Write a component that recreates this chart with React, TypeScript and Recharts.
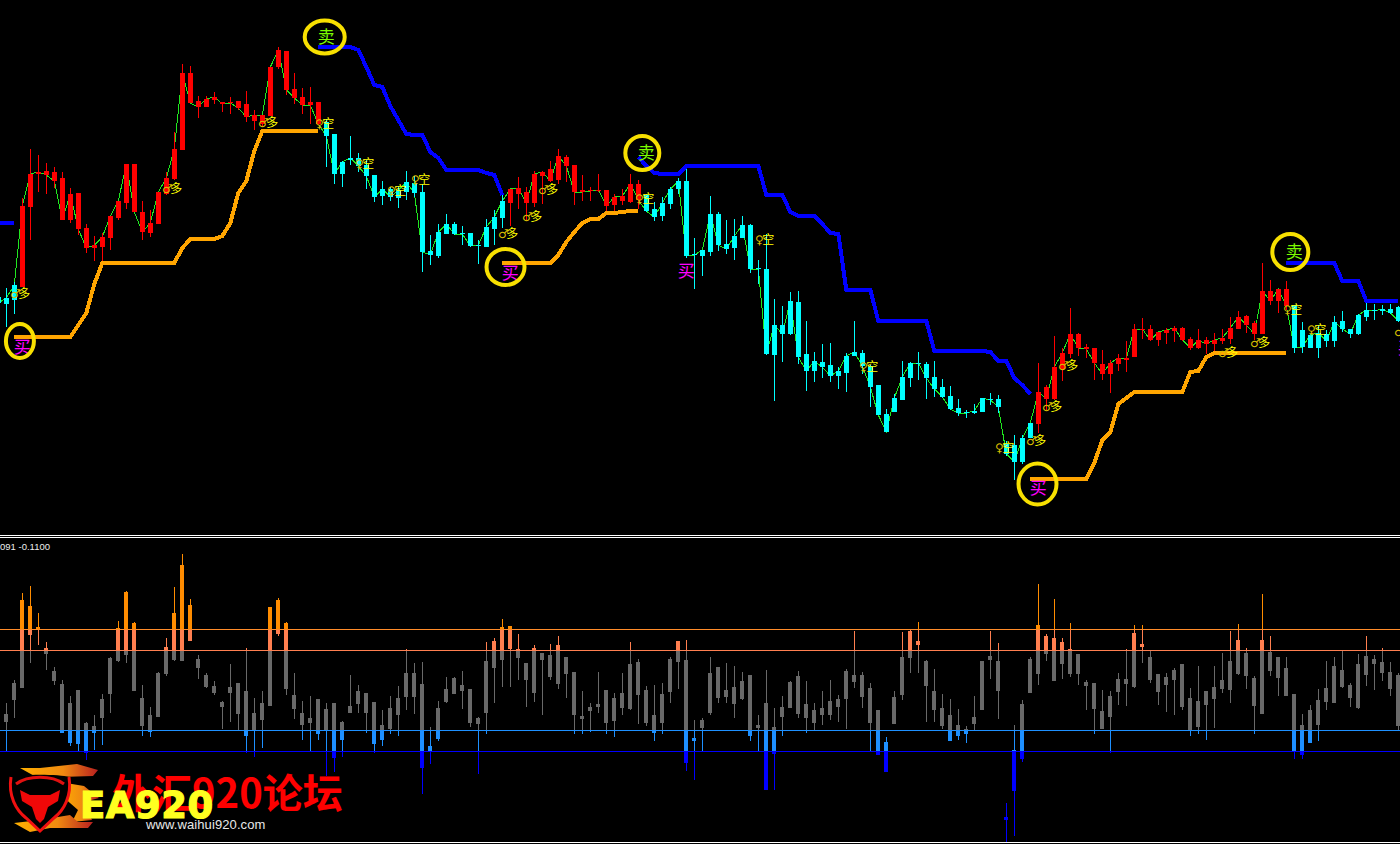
import { Bar, ComposedChart, Line, ReferenceDot, ReferenceLine, XAxis, YAxis } from 'recharts'

// price pane, first entry is the half hidden bar left of the window (bar -1)
const FIRST_BAR = -1
const opens = [
  239, 232, 236, 249, 329, 362, 365, 364, 358, 316, 343, 308, 288, 289, 298, 318, 333, 372, 324, 303,
  312, 342, 357, 386, 463, 435, 429, 436, 434, 434, 435, 432, 415, 412, 420, 469, 485, 447, 439, 434,
  434, 414, 402, 362, 376, 378, 371, 361, 340, 347, 338, 344, 353, 344, 285, 280, 302, 312, 303, 303,
  290, 289, 307, 318, 333, 342, 344, 333, 360, 367, 356, 379, 371, 346, 346, 345, 346, 331, 335, 334,
  352, 341, 327, 320, 332, 347, 355, 282, 280, 284, 322, 292, 288, 298, 311, 268, 267, 181, 211, 202,
  234, 182, 165, 174, 171, 160, 163, 180, 183, 170, 151, 122, 124, 136, 158, 172, 172, 159, 149, 140,
  128, 124, 123, 124, 137, 137, 92, 91, 74, 98, 112, 149, 137, 167, 182, 202, 189, 188, 172, 162,
  172, 176, 179, 206, 207, 196, 203, 205, 208, 197, 188, 196, 192, 195, 197, 207, 220, 213, 202, 245,
  235, 247, 231, 206, 188, 188, 202, 195, 215, 207, 202, 219, 226, 225, 227, 229,
]
const closes = [
  233, 238, 251, 330, 362, 364, 361, 355, 316, 342, 307, 288, 291, 299, 320, 335, 372, 324, 304, 313,
  344, 358, 387, 463, 433, 429, 437, 439, 432, 433, 428, 419, 421, 421, 469, 486, 446, 438, 431, 431,
  412, 400, 362, 374, 378, 370, 360, 339, 347, 339, 346, 354, 343, 284, 281, 304, 312, 302, 302, 290,
  291, 309, 319, 335, 347, 348, 333, 362, 364, 355, 380, 370, 344, 344, 345, 346, 330, 339, 340, 352,
  336, 325, 319, 333, 347, 355, 280, 281, 286, 322, 291, 287, 300, 311, 267, 267, 182, 211, 202, 235,
  179, 165, 175, 169, 160, 165, 180, 184, 170, 149, 121, 104, 138, 159, 173, 173, 158, 147, 139, 127,
  123, 123, 125, 138, 136, 129, 82, 74, 98, 113, 144, 137, 169, 183, 202, 188, 187, 173, 162, 173,
  178, 178, 207, 207, 196, 204, 206, 208, 196, 188, 196, 192, 196, 198, 208, 219, 211, 202, 245, 235,
  247, 230, 188, 189, 201, 203, 195, 214, 207, 202, 221, 226, 225, 227, 223, 215,
]
const highs = [
  240, 248, 254, 338, 387, 381, 373, 369, 364, 348, 343, 312, 300, 303, 320, 335, 372, 372, 335, 326,
  344, 364, 404, 472, 470, 440, 440, 444, 434, 439, 435, 445, 426, 421, 469, 489, 485, 463, 448, 449,
  434, 417, 402, 375, 400, 383, 376, 361, 355, 349, 350, 365, 360, 352, 301, 312, 322, 314, 310, 303,
  296, 317, 326, 341, 347, 359, 349, 365, 365, 375, 387, 381, 371, 361, 349, 362, 346, 342, 347, 362,
  356, 342, 334, 339, 349, 358, 367, 298, 286, 340, 324, 316, 317, 320, 312, 276, 302, 237, 230, 244,
  245, 215, 184, 192, 193, 169, 183, 215, 186, 171, 151, 127, 142, 175, 174, 184, 174, 175, 157, 150,
  137, 126, 132, 138, 143, 141, 95, 101, 101, 113, 173, 151, 200, 188, 228, 203, 192, 188, 186, 176,
  182, 195, 212, 218, 211, 204, 208, 210, 209, 199, 207, 199, 203, 207, 219, 225, 221, 215, 273, 256,
  247, 255, 231, 214, 202, 211, 206, 220, 225, 207, 222, 233, 232, 231, 232, 230,
]
const lows = [
  233, 209, 222, 249, 296, 344, 342, 348, 316, 313, 301, 283, 275, 274, 286, 316, 327, 324, 296, 299,
  312, 341, 356, 386, 433, 418, 429, 432, 424, 422, 426, 414, 406, 409, 420, 467, 441, 432, 422, 412,
  411, 369, 352, 349, 371, 364, 347, 334, 331, 335, 328, 336, 339, 264, 271, 278, 302, 301, 291, 289,
  272, 289, 291, 308, 310, 327, 315, 329, 332, 354, 352, 354, 331, 335, 335, 344, 325, 325, 331, 333,
  327, 324, 315, 315, 327, 342, 278, 247, 260, 280, 285, 282, 276, 298, 263, 252, 181, 135, 174, 201,
  172, 145, 154, 158, 154, 147, 144, 180, 162, 129, 121, 104, 124, 136, 149, 156, 137, 139, 138, 126,
  120, 118, 122, 124, 131, 123, 80, 56, 72, 98, 103, 126, 136, 155, 178, 180, 178, 156, 156, 143,
  165, 164, 179, 197, 195, 190, 192, 194, 195, 186, 187, 182, 184, 192, 192, 207, 203, 196, 202, 231,
  223, 226, 183, 183, 188, 178, 189, 189, 204, 198, 201, 215, 216, 221, 222, 214,
]

// bars where the trend filter paints the candle red, the rest are cyan
const upTrendRanges = [[2, 39], [63, 79], [129, 160]]

const supportSegments = [
  { start: 1, values: [199, 199, 199, 199, 199, 199, 199, 199, 211, 223, 252, 273, 273, 273, 273, 273, 273, 273, 273, 273, 273, 288, 297, 297, 297, 297, 300, 313, 343, 355, 385, 405, 405, 405, 405, 405, 405, 405, 405] },
  { start: 62, values: [273, 273, 273, 273, 273, 273, 273, 281, 294, 304, 313, 317, 317, 323, 323, 324, 325, 325] },
  { start: 128, values: [57, 57, 57, 57, 57, 57, 57, 57, 73, 96, 104, 132, 138, 144, 144, 144, 144, 144, 144, 144, 164, 165, 179, 183, 183, 183, 183, 183, 183, 183, 183, 183, 183] },
]
const resistanceSegments = [
  { start: -1, values: [313, 313, 313] },
  { start: 39, values: [489, 489, 489, 489, 489, 486, 469, 451, 449, 430, 416, 402, 401, 401, 384, 378, 366, 366, 366, 366, 366, 363, 361, 341] },
  { start: 79, values: [379, 370, 363, 362, 362, 362, 370, 370, 370, 370, 370, 370, 370, 370, 370, 370, 341, 341, 341, 324, 320, 320, 320, 312, 303, 302, 246, 246, 246, 246, 215, 215, 215, 215, 215, 215, 215, 185, 185, 185, 185, 185, 185, 185, 184, 175, 175, 158, 151, 142] },
  { start: 160, values: [273, 273, 273, 273, 273, 273, 273, 255, 255, 255, 235, 235, 235, 235, 235] },
]

const longBars = [1, 20, 32, 62, 65, 67, 128, 130, 132, 152, 156, 174]
const longPrices = [242, 347, 413, 302, 319, 346, 95, 129, 170, 183, 193, 204]
const shortBars = [39, 44, 48, 51, 79, 94, 107, 124, 160, 163]
const shortPrices = [412, 372, 345, 356, 337, 296, 169, 88, 226, 206]
const buyBars = [2, 63, 85, 129, 175]
const buyPrices = [189, 263, 265, 48, 188]
const sellBars = [40, 80, 161]
const sellPrices = [499, 383, 284]

const ringBars = [39.8, 1.7, 62.4, 79.5, 128.9, 160.5]
const ringPrices = [499, 195, 269, 383, 52, 284]
const ringRadii = [[20, 16.5], [14, 17], [19, 18], [17, 17], [19, 20.5], [18, 18]]

// oscillator pane, bars 0 to 174
const oscHighs = [
  -12, 11, 97, 105, 77, 49, 24, 11, -5, 1, -32, -25, -3, 34, 70, 100, 69, 6, -16, 19,
  52, 103, 136, 91, 36, 18, 10, -10, 26, 7, 43, -7, 0, 83, 93, 69, 18, -10, -5, -8,
  -13, -13, -30, 16, 6, -2, -11, -20, -5, 5, 42, 28, 29, -36, -10, 14, 14, 20, 2, -26,
  49, 52, 72, 64, 57, 28, 45, 38, 46, 55, 34, 19, 0, -13, 19, 1, -2, 18, 49, 32,
  5, 6, 7, 34, 50, 51, -29, -27, 34, 24, 27, 25, 19, 16, -25, 21, -17, -6, 10, 20,
  10, -13, 0, 11, -4, 22, 60, 19, 8, -19, -46, -1, 58, 62, 69, 31, 22, -3, -8, -18,
  -35, -5, 30, 59, 48, -112, -34, -9, 34, 107, 57, 91, 53, 68, 37, 11, 7, 1, -1, 18,
  42, 66, 66, 41, 17, 18, 23, 26, 3, 25, -1, 25, 38, 59, 67, 43, 15, 96, 55, 34,
  33, -3, -23, -14, 2, 30, 34, 40, 7, 37, 55, 36, 43, 29, 18,
]
const oscBodyHighs = [
  -23, 8, 90, 85, 63, 43, 20, 7, -12, 1, -33, -36, -8, 33, 63, 99, 68, -7, -24, 18,
  43, 78, 125, 86, 32, 16, 5, -11, 4, 7, 0, -22, -12, 83, 91, 68, -4, -22, -27, -8,
  -19, -13, -31, -15, 0, -2, -11, -34, -17, -7, 18, 18, 7, -55, -17, 2, 13, 6, 2, -27,
  30, 49, 64, 64, 42, 28, 42, 38, 35, 46, 34, 19, -25, -17, -13, 1, -7, -2, 26, 29,
  1, -24, -4, 32, 50, 31, -47, -29, 18, 24, 0, 4, 10, 16, -35, -12, -36, -17, 9, 15,
  -13, -20, -17, -10, -8, 20, 16, 16, 3, -19, -51, -7, 34, 60, 50, 30, 0, -17, -24, -34,
  -38, -26, 30, 35, 30, -126, -59, -13, 32, 66, 55, 53, 49, 42, 37, 9, 7, -20, -6, 12,
  12, 58, 47, 34, 17, 14, 21, 26, -7, -10, -1, 4, 11, 30, 51, 38, 13, 51, 39, 34,
  23, -3, -34, -19, -9, 3, 25, 21, 5, 27, 35, 32, 29, 19, 16,
]
const oscBodyLows = [
  -31, -9, 3, 55, 61, 37, 10, -42, -52, -53, -63, -42, -27, -3, 30, 35, -1, -35, -41, -26,
  17, 31, 30, 50, 23, 4, -2, -16, -2, -23, -45, -40, -29, -15, 57, 2, -18, -34, -32, -43,
  -40, -68, -49, -22, -13, -22, -54, -49, -38, -24, -6, -6, -77, -61, -48, -12, -3, 0, -32, -33,
  -22, 22, 31, 41, 33, 11, -2, 31, 14, 7, 17, -25, -28, -21, -16, -33, -30, -17, -19, -4,
  -32, -42, -32, -2, 29, -72, -50, -37, -23, -7, -7, -13, -8, -46, -38, -99, -63, -26, -17, -23,
  -27, -32, -24, -24, -16, -8, 9, -6, -32, -64, -82, -33, -4, 33, 46, 5, -20, -35, -50, -45,
  -43, -33, -20, 31, 0, -129, -100, -68, -2, 17, 37, 10, 27, 17, 17, 5, -19, -39, -27, -1,
  7, 4, 44, 10, -1, 6, 11, -17, -40, -36, -15, -8, 2, 1, 17, 15, -15, -23, 20, 13,
  -5, -61, -64, -52, -35, -11, -13, 4, -7, -17, 16, 27, 18, 2, -35,
]
const oscLows = [
  -60, -27, 3, 27, 45, 21, 6, -42, -55, -60, -70, -59, -54, -22, 29, 27, -1, -45, -46, -26,
  15, 30, 30, 50, 12, 3, -4, -38, -31, -40, -63, -66, -57, -15, 55, -4, -28, -49, -61, -49,
  -85, -82, -66, -22, -22, -42, -63, -55, -43, -45, -19, -23, -103, -73, -50, -13, -3, -18, -36, -83,
  -43, -13, 4, 4, 11, -16, -11, -24, 11, 2, -7, -44, -43, -41, -22, -44, -46, -24, -20, -33,
  -35, -50, -43, -13, 2, -80, -89, -60, -25, -12, -13, -27, -9, -51, -60, -99, -99, -45, -17, -27,
  -42, -40, -34, -29, -32, -38, 3, -17, -60, -64, -82, -33, -9, 18, 18, -31, -32, -38, -50, -49,
  -52, -40, -20, 12, -28, -151, -145, -71, -2, 6, 30, 10, 12, 14, 6, -19, -44, -39, -63, -14,
  -15, 3, 28, 7, -14, -21, -25, -20, -45, -43, -49, -37, -2, -12, 16, 2, -43, -23, 15, -6,
  -5, -68, -68, -52, -51, -19, -13, 3, -16, -18, 5, 1, 10, -5, -40,
]

const levelUpperOuter = 61
const levelUpperInner = 40
const levelLowerInner = -40
const levelLowerOuter = -61

const timeTicks = [2, 10, 18, 26, 34, 42, 50, 58, 66, 74, 82, 90, 98, 106, 114, 122, 130, 138, 146, 154, 162, 170]

const X_DOMAIN: [number, number] = [-0.79, 174.21]

const isUpTrend = (bar: number) => upTrendRanges.some(([from, to]) => bar >= from && bar <= to)

const fillSegments = (segments: { start: number; values: number[] }[], bar: number) => {
  for (const seg of segments) {
    const v = seg.values[bar - seg.start]
    if (v !== undefined) return v
  }
  return null
}

const priceRows = closes.map((close, i) => {
  const bar = i + FIRST_BAR
  return {
    bar,
    open: opens[i],
    close,
    high: highs[i],
    low: lows[i],
    range: [lows[i], highs[i]],
    support: fillSegments(supportSegments, bar),
    resistance: fillSegments(resistanceSegments, bar),
  }
})

const oscRows = oscHighs.map((high, i) => ({
  bar: i,
  high,
  bodyHigh: oscBodyHighs[i],
  bodyLow: oscBodyLows[i],
  low: oscLows[i],
  range: [oscLows[i], high],
}))

function Candle(props: any) {
  const { x, y, width, height, payload } = props
  const cx = Math.floor(x + width / 2)
  const h = Math.abs(height)
  const perUnit = h / Math.max(payload.high - payload.low, 1)
  const toY = (v: number) => y + (payload.high - v) * perUnit
  const top = Math.round(toY(Math.max(payload.open, payload.close)))
  const bottom = Math.round(toY(Math.min(payload.open, payload.close)))
  const color = isUpTrend(payload.bar) ? '#ff0000' : '#00ffff'
  return (
    <g shapeRendering="crispEdges">
      <rect x={cx} y={Math.round(y)} width={1} height={Math.max(Math.round(h), 1)} fill={color} />
      <rect x={cx - 2} y={top} width={5} height={Math.max(bottom - top, 1)} fill={color} />
    </g>
  )
}

const zones = [
  { top: Infinity, bottom: levelUpperOuter, color: '#ff8c00' },
  { top: levelUpperOuter, bottom: levelUpperInner, color: '#ff7f50' },
  { top: levelUpperInner, bottom: levelLowerInner, color: '#696969' },
  { top: levelLowerInner, bottom: levelLowerOuter, color: '#1e90ff' },
  { top: levelLowerOuter, bottom: -Infinity, color: '#0000ff' },
]

function OscCandle(props: any) {
  const { x, y, width, height, payload } = props
  const cx = Math.floor(x + width / 2)
  const perUnit = Math.abs(height) / Math.max(payload.high - payload.low, 1)
  const toY = (v: number) => y + (payload.high - v) * perUnit
  const pieces = (hi: number, lo: number, left: number, w: number) =>
    zones.map((z) => {
      const a = Math.min(hi, z.top)
      const b = Math.max(lo, z.bottom)
      if (a <= b) return null
      const top = Math.round(toY(a))
      const bottom = Math.round(toY(b))
      return <rect key={`${left}-${z.color}`} x={left} y={top} width={w} height={Math.max(bottom - top, 1)} fill={z.color} />
    })
  return (
    <g shapeRendering="crispEdges">
      {pieces(payload.high, payload.low, cx, 1)}
      {pieces(payload.bodyHigh, payload.bodyLow, cx - 2, 4)}
    </g>
  )
}

const CJK = '"Noto Sans CJK SC", sans-serif'

const tradeMark = (glyph: string, word: string) => (props: any) => (
  <g>
    <text x={props.cx + 1} y={props.cy + 4} fontSize={12} textAnchor="middle" fill="#d8bc00" fontFamily="DejaVu Sans">
      {glyph}
    </text>
    <text x={props.cx + 10} y={props.cy + 4} fontSize={12} textAnchor="middle" fill="#ffff00" fontFamily={CJK}>
      {word}
    </text>
  </g>
)

const signalMark = (word: string, color: string) => (props: any) => (
  <text x={props.cx} y={props.cy + 6} fontSize={17} textAnchor="middle" fill={color} fontFamily={CJK}>
    {word}
  </text>
)

const ringMark = (rx: number, ry: number) => (props: any) => (
  <ellipse cx={props.cx} cy={props.cy} rx={rx} ry={ry} fill="none" stroke="#f8e000" strokeWidth={4} />
)

function Watermark() {
  return (
    <svg width={360} height={84} style={{ position: 'absolute', left: 0, top: 760 }}>
      <defs>
        <linearGradient id="swoosh" x1="0" y1="0" x2="1" y2="0">
          <stop offset="0" stopColor="#ffb000" />
          <stop offset="0.55" stopColor="#f08a10" />
          <stop offset="1" stopColor="#b82020" />
        </linearGradient>
      </defs>
      <text x={112} y={48} fontSize={40} fontWeight={700} fill="#ff0000" fontFamily={CJK}>
        外汇920论坛
      </text>
      <polygon points="20,8 40,8 77,4 98,10 93,16 60,17 45,22 30,26 38,18" fill="url(#swoosh)" />
      <polygon points="60,22 84,26 99,38 84,42 92,60 72,62 78,50 62,36" fill="url(#swoosh)" />
      <polygon points="14,63 40,60 70,55 78,62 93,62 88,68 50,68 30,72" fill="url(#swoosh)" />
      <path d="M11 17 C8 36 16 50 26 58 L40 71 L54 58 C64 50 72 36 69 17 C60 14 20 14 11 17 Z" fill="#000" />
      <path d="M11 17 C8 36 16 50 26 58 L40 71 L54 58 C64 50 72 36 69 17" fill="none" stroke="#f01010" strokeWidth={3} />
      <path d="M16 24 C28 15 52 15 64 24" fill="none" stroke="#e01010" strokeWidth={3} />
      <polygon points="20,30 30,35 50,35 60,30 58,41 48,47 44,59 40,63 36,59 32,47 22,41" fill="#f00808" />
      <text x={80} y={58} fontSize={37} fontWeight={700} fill="#ffff20" stroke="#ffff20" strokeWidth={1.2} fontFamily="DejaVu Sans" letterSpacing={0.5}>
        EA920
      </text>
      <text x={146} y={69} fontSize={13} fill="#e8e8e8" fontFamily="Liberation Sans" letterSpacing={0.1}>
        www.waihui920.com
      </text>
    </svg>
  )
}

export default function App() {
  return (
    <div style={{ position: 'absolute', left: 0, top: 0, width: 1400, height: 844, background: '#000', overflow: 'hidden' }}>
      <div style={{ position: 'absolute', left: 0, top: 0 }}>
        <ComposedChart width={1400} height={535} data={priceRows} margin={{ top: 0, right: 0, bottom: 0, left: 0 }}>
          <XAxis dataKey="bar" type="number" scale="linear" domain={X_DOMAIN} allowDataOverflow hide />
          <YAxis type="number" domain={[1, 536]} allowDataOverflow hide />
          <Line dataKey="close" stroke="#1fe81f" strokeWidth={1} dot={false} isAnimationActive={false} zIndex={200} shapeRendering="crispEdges" />
          <Bar dataKey="range" barSize={4} shape={Candle} isAnimationActive={false} />
          <Line dataKey="support" stroke="#ffa500" strokeWidth={4} dot={false} isAnimationActive={false} strokeLinejoin="round" shapeRendering="crispEdges" />
          <Line dataKey="resistance" stroke="#0000ff" strokeWidth={4} dot={false} isAnimationActive={false} strokeLinejoin="round" shapeRendering="crispEdges" />
          {longBars.map((bar, i) => (
            <ReferenceDot key={`l${bar}`} x={bar} y={longPrices[i]} ifOverflow="visible" shape={tradeMark('♂', '多')} />
          ))}
          {shortBars.map((bar, i) => (
            <ReferenceDot key={`s${bar}`} x={bar} y={shortPrices[i]} ifOverflow="visible" shape={tradeMark('♀', '空')} />
          ))}
          {buyBars.map((bar, i) => (
            <ReferenceDot key={`b${bar}`} x={bar} y={buyPrices[i]} ifOverflow="visible" shape={signalMark('买', '#ff00ff')} />
          ))}
          {sellBars.map((bar, i) => (
            <ReferenceDot key={`x${bar}`} x={bar} y={sellPrices[i]} ifOverflow="visible" shape={signalMark('卖', '#7cfc00')} />
          ))}
          {ringBars.map((bar, i) => (
            <ReferenceDot key={`r${bar}`} x={bar} y={ringPrices[i]} ifOverflow="visible" shape={ringMark(ringRadii[i][0], ringRadii[i][1])} />
          ))}
        </ComposedChart>
      </div>
      <div style={{ position: 'absolute', left: 0, top: 535, width: 1400, height: 1, background: '#fff' }} />
      <div style={{ position: 'absolute', left: 0, top: 537, width: 1400, height: 1, background: '#fff' }} />
      <div style={{ position: 'absolute', left: 0, top: 538 }}>
        <ComposedChart width={1400} height={306} data={oscRows} margin={{ top: 0, right: 0, bottom: 1, left: 0 }}>
          <XAxis
            dataKey="bar"
            type="number"
            scale="linear"
            domain={X_DOMAIN}
            allowDataOverflow
            ticks={timeTicks}
            tick={false}
            height={1}
            tickSize={2}
            axisLine={{ stroke: '#fff', shapeRendering: 'crispEdges' }}
            tickLine={{ stroke: '#fff', shapeRendering: 'crispEdges' }}
          />
          <YAxis type="number" domain={[-151.5, 152.5]} allowDataOverflow hide />
          <Bar dataKey="range" barSize={4} shape={OscCandle} isAnimationActive={false} />
          <ReferenceLine y={levelUpperOuter} stroke="#ff8c2a" strokeWidth={1} />
          <ReferenceLine y={levelUpperInner} stroke="#ff7f50" strokeWidth={1} />
          <ReferenceLine y={levelLowerInner} stroke="#1e90ff" strokeWidth={1} />
          <ReferenceLine y={levelLowerOuter} stroke="#0000ff" strokeWidth={1} />
        </ComposedChart>
      </div>
      <div
        style={{
          position: 'absolute',
          left: -60,
          top: 541,
          width: 110,
          textAlign: 'right',
          fontSize: 9.5,
          lineHeight: '12px',
          color: '#eeeeee',
          fontFamily: 'Liberation Sans',
          whiteSpace: 'nowrap',
        }}
      >
        -0.0091 -0.1100
      </div>
      <Watermark />
    </div>
  )
}
